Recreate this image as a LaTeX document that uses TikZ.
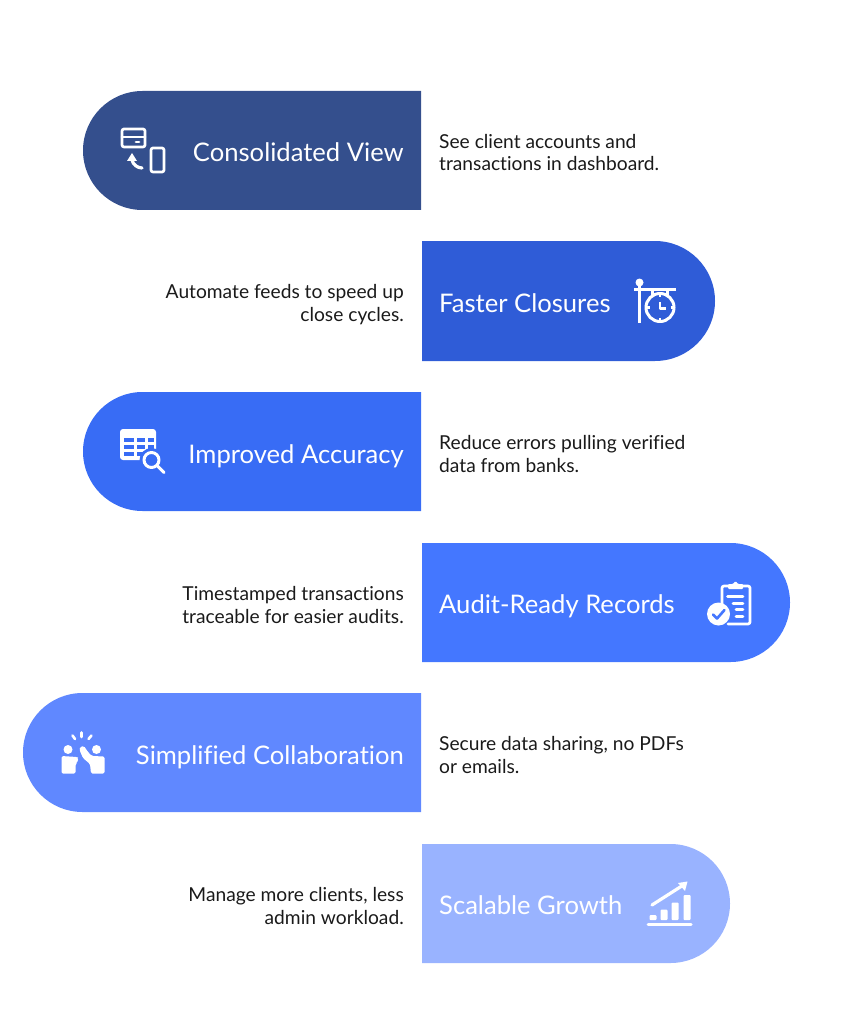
\documentclass[tikz,border=0pt]{standalone}
\usepackage{fontspec}
\setmainfont[Ligatures=CommonOff]{Lato}
\definecolor{viewblue}{HTML}{344F8D}
\definecolor{closeblue}{HTML}{2F5CD7}
\definecolor{accublue}{HTML}{386CF5}
\definecolor{auditblue}{HTML}{4477FF}
\definecolor{collabblue}{HTML}{6088FF}
\definecolor{growblue}{HTML}{99B3FF}
\definecolor{desctext}{HTML}{1A1A1A}
\tikzset{title/.style={text=white, inner sep=0pt, font=\fontsize{25.6}{30}\selectfont},
  descl/.style={text=desctext, inner sep=0pt, align=left, anchor=base west, font=\fontsize{19.2}{22.6}\selectfont},
  descr/.style={text=desctext, inner sep=0pt, align=right, anchor=base east, font=\fontsize{19.2}{22.6}\selectfont},
  icon/.style={white, line width=2.7pt, line cap=round, line join=round}}

\begin{document}
\begin{tikzpicture}[x=1pt,y=-1pt]
  \useasboundingbox (0,0) rectangle (843,1024);
  % bands
  \fill[viewblue] (421,91) [rounded corners=59.5pt] -- (83,91) -- (83,210) [sharp corners] -- (421,210) -- cycle;
  \fill[closeblue] (422,241) [rounded corners=60pt] -- (715,241) -- (715,361) [sharp corners] -- (422,361) -- cycle;
  \fill[accublue] (421,392) [rounded corners=59.5pt] -- (83,392) -- (83,511) [sharp corners] -- (421,511) -- cycle;
  \fill[auditblue] (422,543) [rounded corners=59.5pt] -- (790,543) -- (790,662) [sharp corners] -- (422,662) -- cycle;
  \fill[collabblue] (421,693) [rounded corners=59.5pt] -- (23,693) -- (23,812) [sharp corners] -- (421,812) -- cycle;
  \fill[growblue] (422,844) [rounded corners=59.5pt] -- (730,844) -- (730,963) [sharp corners] -- (422,963) -- cycle;
  % titles
  \node[title,anchor=base east] (viewtitle) at (404,162) {Consolidated View};
  \node[title,anchor=base west] (closetitle) at (439,312) {Faster Closures};
  \node[title,anchor=base east] (accutitle) at (404,463) {Improved Accuracy};
  \node[title,anchor=base west] (audittitle) at (439,613) {Audit-Ready Records};
  \node[title,anchor=base east] (collabtitle) at (404,764) {Simplified Collaboration};
  \node[title,anchor=base west] (growtitle) at (439,914) {Scalable Growth};
  % descriptions
  \node[descl] (viewdesc) at (439,171) {See client accounts and\\transactions in dashboard.};
  \node[descr] (closedesc) at (404,321) {Automate feeds to speed up\\close cycles.};
  \node[descl] (accudesc) at (439,472) {Reduce errors pulling verified\\data from banks.};
  \node[descr] (auditdesc) at (404,623) {Timestamped transactions\\traceable for easier audits.};
  \node[descl] (collabdesc) at (439,773) {Secure data sharing, no PDFs\\or emails.};
  \node[descr] (growdesc) at (404,924) {Manage more clients, less\\admin workload.};
  % card and phone
  \draw[icon,rounded corners=2pt] (122,129) rectangle (145,147);
  \draw[icon] (122,137) -- (145,137);
  \draw[icon] (136,142) -- (139,142);
  \draw[icon,rounded corners=2pt] (151,148) rectangle (164,172);
  \draw[icon,line width=3.2pt] (132,160) .. controls (133,165) and (138,168) .. (142,168);
  \fill[white] (132,153) -- (137,161) -- (127,161) -- cycle;
  % clock on a post
  \fill[white] (639.5,282.5) circle (4);
  \draw[icon,line cap=butt] (639.5,283) -- (639.5,322.5);
  \draw[icon,line cap=butt] (634,289.5) -- (675.5,289.5);
  \draw[icon,line cap=butt] (652.5,289.5) -- (652.5,296);
  \draw[icon,line cap=butt] (667.5,289.5) -- (667.5,296);
  \draw[icon,line width=3pt] (660,307.5) circle (14);
  \draw[icon,line cap=butt] (660,302) -- (660,308.5) -- (665.5,308.5);
  \draw[icon,line cap=butt] (660,293.5) -- (660,297);
  \draw[icon,line cap=butt] (660,318) -- (660,321.5);
  \draw[icon,line cap=butt] (646,307.5) -- (649.5,307.5);
  \draw[icon,line cap=butt] (670.5,307.5) -- (674,307.5);
  % table and lens
  \fill[white,rounded corners=3pt] (120,429) rectangle (156,460);
  \foreach \row in {438,445,452} {
    \foreach \col/\wid in {123.5/10,137/8,147.5/6} {
      \fill[accublue] (\col,\row) rectangle +(\wid,4);
    }
  }
  \fill[accublue] (151.5,460) circle (12);
  \draw[icon,line width=3pt] (151.5,460) circle (7.5);
  \draw[icon,line width=3pt] (157.5,466) -- (164,472.5);
  % clipboard
  \draw[icon,rounded corners=2pt] (722,606) -- (722,586) -- (729,586);
  \draw[icon,rounded corners=2pt] (742,586) -- (750,586) -- (750,624) -- (728,624);
  \fill[white,rounded corners=1pt] (728,589) -- (728,584) -- (733,584) -- (735.5,581) -- (738,584) -- (743,584) -- (743,589) -- cycle;
  \draw[icon] (727.5,596.5) -- (743,596.5);
  \draw[icon] (733,603.5) -- (743,603.5);
  \draw[icon] (736,609.5) -- (743,609.5);
  \draw[icon] (736,616.5) -- (743,616.5);
  \fill[white] (718.5,614) circle (11.5);
  \draw[auditblue,line width=2.6pt,line cap=round,line join=round] (713,614.5) -- (717,618.5) -- (724.5,610);
  % high five
  \fill[white] (68,749.5) circle (4.5);
  \fill[white] (96.5,749.5) circle (4.5);
  \draw[icon,line width=2.6pt] (81.5,732.5) -- (81.5,737);
  \draw[icon,line width=2.6pt] (72.5,735.5) -- (75,739);
  \draw[icon,line width=2.6pt] (91.5,735.5) -- (88.5,739);
  \fill[white,rounded corners=1.5pt] (61.5,773.5) -- (61.5,756) -- (77,757) -- (78.5,758) -- (77,763) -- (75.5,764) -- (75.5,773.5) -- cycle;
  \fill[white,rounded corners=1.5pt] (104.5,773.5) -- (104.5,756.5) -- (92,756) -- (88,752) -- (84,746) -- (80,747) -- (79.5,750) -- (83,758) -- (90,764) -- (91,773.5) -- cycle;
  % chart
  \draw[icon,line width=3.2pt] (652,905) -- (681,886.5);
  \fill[white] (687.5,881.5) -- (685,891) -- (678,883) -- cycle;
  \fill[white,rounded corners=1pt] (649.5,915) rectangle (656.5,920);
  \fill[white,rounded corners=1pt] (660.5,909.5) rectangle (667.5,920);
  \fill[white,rounded corners=1pt] (671.5,902.5) rectangle (678.5,920);
  \fill[white,rounded corners=1pt] (683.5,895) rectangle (690.5,920);
  \draw[icon,line width=3pt] (648,924) -- (691,924);
\end{tikzpicture}
\end{document}
